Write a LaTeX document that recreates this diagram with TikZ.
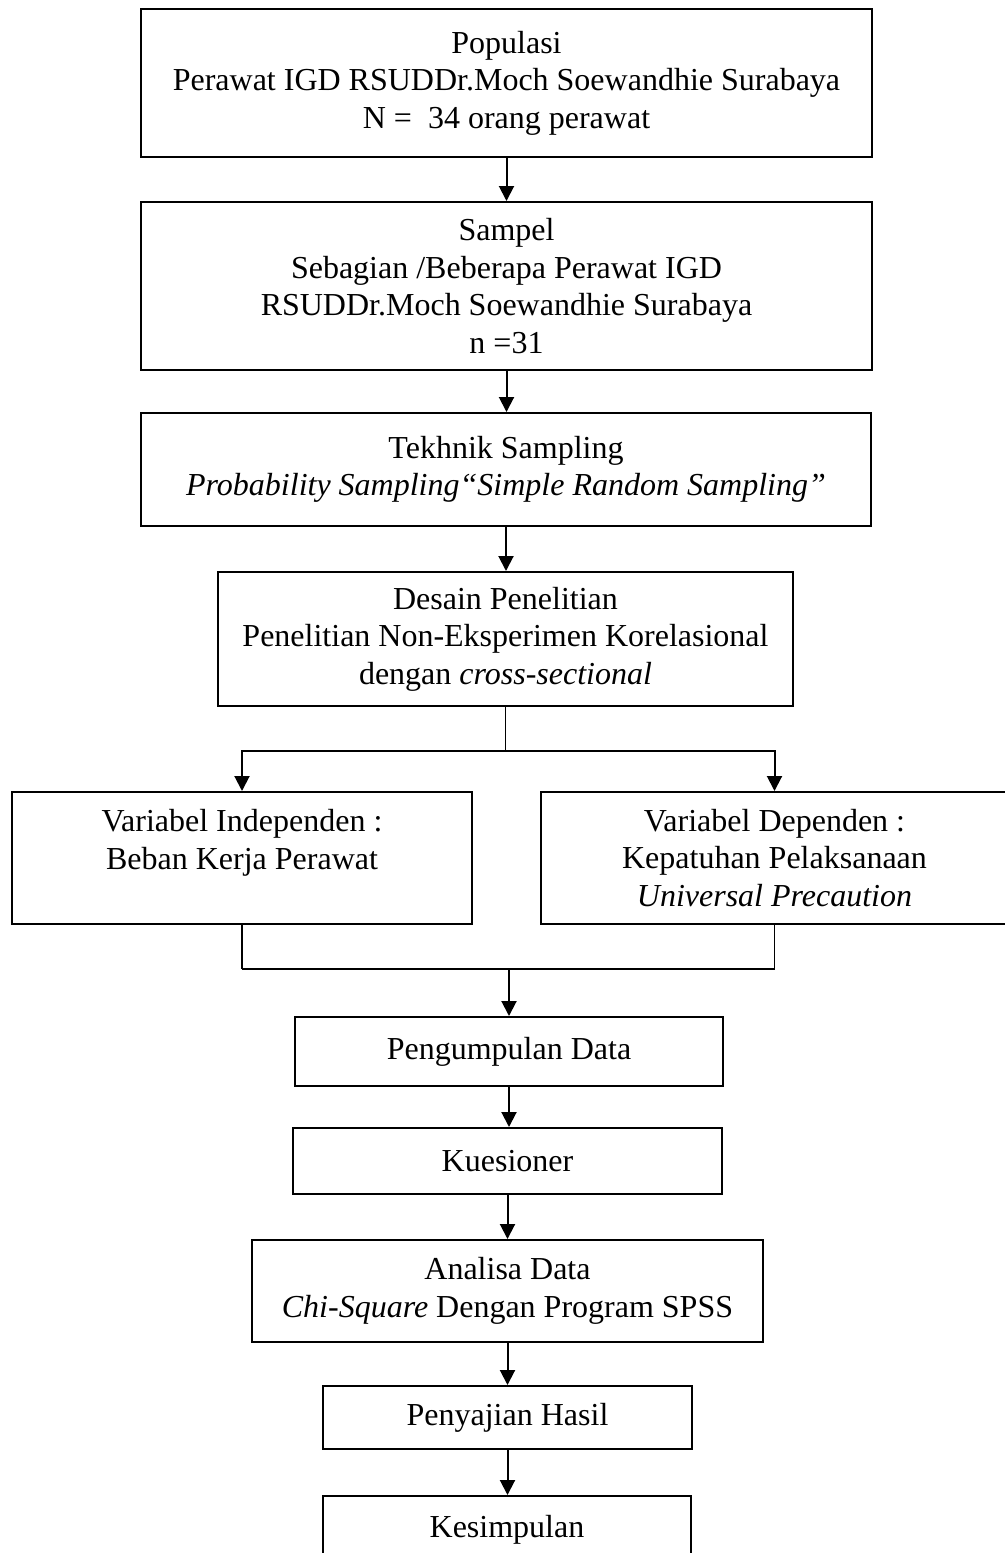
\documentclass[tikz,border=0pt]{standalone}
\usepackage{fontspec}
\setmainfont{Liberation Serif}
\usetikzlibrary{arrows.meta, calc, positioning}
\tikzset{
    flowBox/.style={rectangle, draw, line width=1pt, align=center, inner sep=0pt, font=\fontsize{16}{18.7}\selectfont},
    flowEdge/.style={-{Triangle[length=7.5pt, width=7.5pt]}, line width=1pt},
    flowLine/.style={line width=0.6pt},
    flowBar/.style={line width=1pt},
}
\newcommand{\drawFlow}[2]{
    \draw[flowEdge] (#1.south) -- (#1.south |- #2.north);
}
\begin{document}
\begin{tikzpicture}[x=0.5pt, y=-0.5pt]

        \useasboundingbox (0,0) rectangle (1005,1553);

        \node[flowBox, minimum width=365.5pt, minimum height=74pt] (populasi) at (506.5, 83) {Populasi\\Perawat IGD RSUDDr.Moch Soewandhie Surabaya\\N = \ 34 orang perawat};
        \node[flowBox, minimum width=365.5pt, minimum height=84pt] (sampel) at (506.5, 286) {Sampel\\Sebagian /Beberapa Perawat IGD\\RSUDDr.Moch Soewandhie Surabaya\\n =31};
        \node[flowBox, minimum width=365pt, minimum height=56.5pt] (teknik) at (506, 469.5) {Tekhnik Sampling\\\textit{Probability Sampling“Simple Random Sampling”}};
        \node[flowBox, minimum width=287.5pt, minimum height=67pt] (desain) at (505.5, 639) {Desain Penelitian\\Penelitian Non-Eksperimen Korelasional\\dengan \textit{cross-sectional}};
        \node[flowBox, minimum width=230pt, minimum height=66pt] (independen) at (242, 858) {Variabel Independen :\\Beban Kerja Perawat\\~};
        \node[flowBox, minimum width=233.5pt, minimum height=66pt] (dependen) at (774.5, 858) {Variabel Dependen :\\Kepatuhan Pelaksanaan\\\textit{Universal Precaution}};
        \node[flowBox, minimum width=214pt, minimum height=34.5pt] (pengumpulan) at (509, 1051.5) {Pengumpulan Data};
        \node[flowBox, minimum width=214.5pt, minimum height=33pt] (kuesioner) at (507.5, 1161) {Kuesioner};
        \node[flowBox, minimum width=255.5pt, minimum height=51pt] (analisa) at (507.5, 1291) {Analisa Data\\\textit{Chi-Square} Dengan Program SPSS};
        \node[flowBox, minimum width=184.5pt, minimum height=31.5pt] (penyajian) at (507.5, 1417.5) {Penyajian Hasil};
        \node[flowBox, minimum width=184pt, minimum height=34pt] (kesimpulan) at (507, 1530) {Kesimpulan};

        \drawFlow{populasi}{sampel}
        \drawFlow{sampel}{teknik}
        \drawFlow{teknik}{desain}

        % cabang ke dua variabel
        \coordinate (cabang) at ($(desain.south)+(0,44)$);
        \draw[flowLine] (desain.south) -- (cabang);
        \draw[flowEdge] (cabang) -| (independen);
        \draw[flowEdge] (cabang) -| (dependen);

        % gabung kembali
        \coordinate (gabung) at ($(pengumpulan.north)-(0,47)$);
        \draw[flowLine] (independen.south) -- (independen.south |- gabung);
        \draw[flowLine] (dependen.south) -- (dependen.south |- gabung);
        \draw[flowBar] (independen.south |- gabung) -- (dependen.south |- gabung);
        \draw[flowEdge] (gabung) -- (pengumpulan);

        \drawFlow{pengumpulan}{kuesioner}
        \drawFlow{kuesioner}{analisa}
        \drawFlow{analisa}{penyajian}
        \drawFlow{penyajian}{kesimpulan}

    \end{tikzpicture}
\end{document}
